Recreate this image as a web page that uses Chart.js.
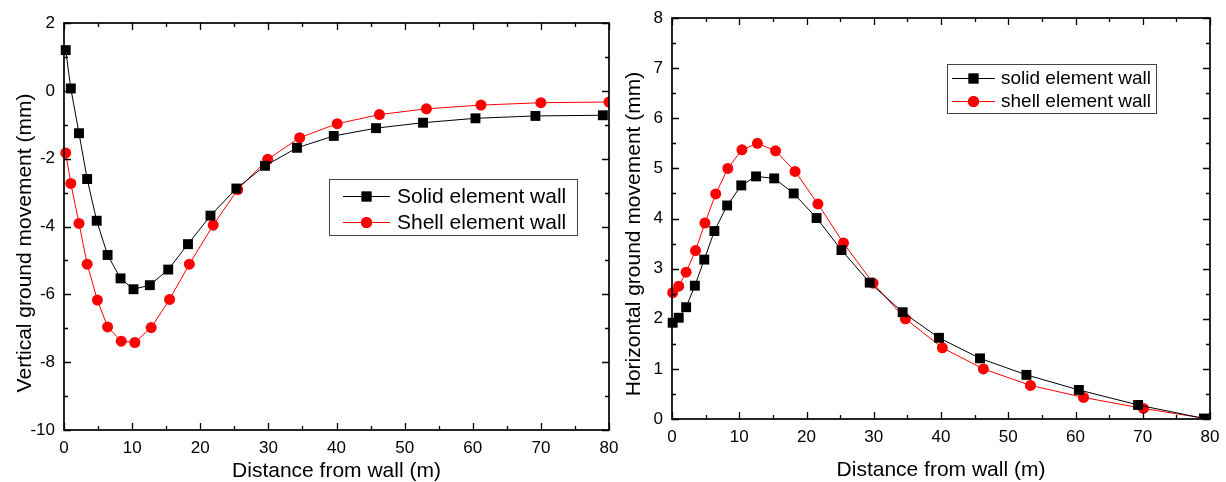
<!DOCTYPE html>
<html>
<head>
<meta charset="utf-8">
<script src="https://cdn.jsdelivr.net/npm/chart.js@4.4.0/dist/chart.umd.min.js"></script>
<style>
    body { margin: 0; background: #fff; }
    .panel { position: absolute; top: 0; height: 482px; }
    #leftPanel { left: 0; width: 625px; }
    #rightPanel { left: 615px; width: 611px; }
</style>
</head>
<body>
<div class="panel" id="leftPanel"><canvas id="vertChart"></canvas></div>
<div class="panel" id="rightPanel"><canvas id="horizChart"></canvas></div>
<script>
// Distance from wall (m) and ground movement (mm)
const distTicks = [0, 10, 20, 30, 40, 50, 60, 70, 80];
const vertTicks = [-10, -8, -6, -4, -2, 0, 2];
const horizTicks = [0, 1, 2, 3, 4, 5, 6, 7, 8];

const vertSolidX = [0.25, 1.0, 2.2, 3.4, 4.8, 6.4, 8.3, 10.2, 12.6, 15.3, 18.2, 21.5, 25.3, 29.5, 34.2, 39.6, 45.8, 52.7, 60.4, 69.2, 79.1];
const vertSolidY = [1.2, 0.07, -1.25, -2.6, -3.83, -4.84, -5.53, -5.85, -5.73, -5.27, -4.52, -3.68, -2.88, -2.21, -1.68, -1.33, -1.10, -0.94, -0.81, -0.74, -0.72];
const vertShellX = [0.25, 1.0, 2.2, 3.4, 4.9, 6.4, 8.4, 10.4, 12.8, 15.5, 18.4, 21.9, 25.5, 29.9, 34.6, 40.1, 46.3, 53.2, 61.2, 70.0, 80.0];
const vertShellY = [-1.83, -2.73, -3.91, -5.11, -6.17, -6.96, -7.38, -7.42, -6.98, -6.15, -5.11, -3.96, -2.91, -2.02, -1.38, -0.97, -0.70, -0.53, -0.42, -0.35, -0.33];

const horizSolidX = [0.1, 1.0, 2.1, 3.4, 4.8, 6.3, 8.2, 10.3, 12.5, 15.2, 18.1, 21.5, 25.2, 29.4, 34.3, 39.7, 45.8, 52.7, 60.5, 69.3, 79.1];
const horizSolidY = [1.92, 2.02, 2.23, 2.66, 3.18, 3.75, 4.26, 4.66, 4.84, 4.80, 4.50, 4.01, 3.37, 2.72, 2.13, 1.62, 1.21, 0.88, 0.58, 0.28, 0.01];
const horizShellX = [0.1, 1.0, 2.1, 3.5, 4.9, 6.5, 8.3, 10.4, 12.7, 15.4, 18.3, 21.7, 25.5, 29.9, 34.7, 40.2, 46.3, 53.3, 61.2, 70.1, 79.9];
const horizShellY = [2.52, 2.65, 2.93, 3.36, 3.91, 4.49, 5.00, 5.37, 5.50, 5.35, 4.94, 4.29, 3.51, 2.71, 2.00, 1.42, 1.00, 0.67, 0.43, 0.21, 0.0];

Chart.defaults.font.family = '"Liberation Sans", Arial, sans-serif';
Chart.defaults.color = '#000';

function toPoints(xs, ys) {
    return xs.map((x, i) => ({x: x, y: ys[i]}));
}

function solidSet(label, xs, ys) {
    return {
        label: label,
        data: toPoints(xs, ys),
        showLine: true,
        borderColor: '#000',
        backgroundColor: '#000',
        borderWidth: 1,
        pointStyle: 'rect',
        pointRadius: 7,
        pointBorderWidth: 0,
        tension: 0,
        clip: {left: 6, top: 0, right: 0, bottom: 0}
    };
}

function shellSet(label, xs, ys) {
    return {
        label: label,
        data: toPoints(xs, ys),
        showLine: true,
        borderColor: '#ff0000',
        backgroundColor: '#ff0000',
        borderWidth: 1,
        pointStyle: 'circle',
        pointRadius: 5.5,
        pointBorderWidth: 0,
        tension: 0,
        clip: {left: 6, top: 0, right: 0, bottom: 0}
    };
}

// Box frame with inward major/minor ticks, rotated y title, x title and inset legend
const frameDecor = {
    id: 'frameDecor',
    afterDatasetsDraw(chart, args, opts) {
        const {ctx, chartArea: a, scales: {x, y}} = chart;
        ctx.save();
        ctx.strokeStyle = '#000';
        ctx.lineWidth = 1.3;
        ctx.beginPath();
        const xt = x.ticks.map(t => t.value);
        for (let i = 0; i < xt.length; i++) {
            const vals = [[xt[i], 7]];
            if (i < xt.length - 1) vals.push([(xt[i] + xt[i + 1]) / 2, 4]);
            vals.forEach(([v, len]) => {
                const px = Math.round(x.getPixelForValue(v)) + 0.5;
                ctx.moveTo(px, a.bottom); ctx.lineTo(px, a.bottom - len);
                ctx.moveTo(px, a.top); ctx.lineTo(px, a.top + len);
            });
        }
        const yt = y.ticks.map(t => t.value);
        for (let i = 0; i < yt.length; i++) {
            const vals = [[yt[i], 7]];
            if (i < yt.length - 1) vals.push([(yt[i] + yt[i + 1]) / 2, 4]);
            vals.forEach(([v, len]) => {
                const py = Math.round(y.getPixelForValue(v)) + 0.5;
                ctx.moveTo(a.left, py); ctx.lineTo(a.left + len, py);
                ctx.moveTo(a.right, py); ctx.lineTo(a.right - len, py);
            });
        }
        ctx.stroke();
        ctx.lineWidth = 1.7;
        ctx.strokeRect(a.left, a.top, a.width, a.height);
        ctx.restore();
    },
    afterDraw(chart, args, opts) {
        const {ctx, chartArea: a} = chart;
        const family = Chart.defaults.font.family;
        ctx.save();
        ctx.fillStyle = '#000';

        // axis titles
        ctx.font = opts.titleSize + 'px ' + family;
        ctx.textAlign = 'center';
        ctx.textBaseline = 'alphabetic';
        ctx.fillText(opts.xTitle, (a.left + a.right) / 2, opts.xTitleBase);
        ctx.translate(opts.yTitleBase, opts.yTitleMid);
        ctx.rotate(-Math.PI / 2);
        ctx.fillText(opts.yTitle, 0, 0);
        ctx.setTransform(1, 0, 0, 1, 0, 0);

        // legend
        const lg = opts.legend;
        ctx.strokeStyle = '#444';
        ctx.lineWidth = 1;
        ctx.strokeRect(lg.left + 0.5, lg.top + 0.5, lg.width, lg.height);
        ctx.font = lg.size + 'px ' + family;
        ctx.textAlign = 'left';
        ctx.textBaseline = 'middle';
        chart.data.datasets.forEach((ds, i) => {
            const ry = lg.rows[i];
            ctx.strokeStyle = ds.borderColor;
            ctx.beginPath();
            ctx.moveTo(lg.lineFrom, ry + 0.5);
            ctx.lineTo(lg.lineTo, ry + 0.5);
            ctx.stroke();
            ctx.fillStyle = ds.backgroundColor;
            Chart.helpers.drawPoint(ctx, {pointStyle: ds.pointStyle, radius: ds.pointRadius, borderWidth: 0, rotation: 0},
                (lg.lineFrom + lg.lineTo) / 2, ry + 0.5);
            ctx.fill();
            ctx.fillStyle = '#000';
            ctx.fillText(ds.label, lg.textX, ry + 1);
        });
        ctx.restore();
    }
};

function fixedScale(tickVals, min, max, thickness, isX) {
    return {
        type: 'linear',
        min: min,
        max: max,
        grid: {display: false, drawTicks: false},
        border: {display: false},
        ticks: {font: {size: 17}, padding: isX ? 8 : 9, color: '#000'},
        afterBuildTicks: scale => { scale.ticks = tickVals.map(v => ({value: v})); },
        afterFit: scale => {
            if (isX) {
                scale.height = thickness;
                scale.paddingLeft = 0;
                scale.paddingRight = 0;
            } else {
                scale.width = thickness;
                scale.paddingTop = 0;
                scale.paddingBottom = 0;
            }
        }
    };
}

// Vertical ground movement
new Chart(document.getElementById('vertChart').getContext('2d'), {
    type: 'scatter',
    data: {
        datasets: [
            solidSet('Solid element wall', vertSolidX, vertSolidY),
            shellSet('Shell element wall', vertShellX, vertShellY)
        ]
    },
    options: {
        responsive: true,
        maintainAspectRatio: false,
        animation: false,
        layout: {padding: {top: 23, right: 16, left: 0, bottom: 0}},
        scales: {
            x: fixedScale(distTicks, 0, 80, 52, true),
            y: fixedScale(vertTicks, -10, 2, 64, false)
        },
        plugins: {
            legend: {display: false},
            tooltip: {enabled: false},
            frameDecor: {
                titleSize: 21,
                xTitle: 'Distance from wall (m)',
                xTitleBase: 477,
                yTitle: 'Vertical ground movement (mm)',
                yTitleBase: 31,
                yTitleMid: 243,
                legend: {
                    left: 329, top: 179, width: 248, height: 56,
                    rows: [196, 222], lineFrom: 343, lineTo: 390, textX: 397, size: 21
                }
            }
        }
    },
    plugins: [frameDecor]
});

// Horizontal ground movement
new Chart(document.getElementById('horizChart').getContext('2d'), {
    type: 'scatter',
    data: {
        datasets: [
            solidSet('solid element wall', horizSolidX, horizSolidY),
            shellSet('shell element wall', horizShellX, horizShellY)
        ]
    },
    options: {
        responsive: true,
        maintainAspectRatio: false,
        animation: false,
        layout: {padding: {top: 18, right: 16, left: 0, bottom: 0}},
        scales: {
            x: fixedScale(distTicks, 0, 80, 63, true),
            y: fixedScale(horizTicks, 0, 8, 57, false)
        },
        plugins: {
            legend: {display: false},
            tooltip: {enabled: false},
            frameDecor: {
                titleSize: 21,
                xTitle: 'Distance from wall (m)',
                xTitleBase: 476,
                yTitle: 'Horizontal ground movement (mm)',
                yTitleBase: 25,
                yTitleMid: 234,
                legend: {
                    left: 332, top: 64, width: 209, height: 49,
                    rows: [78, 101], lineFrom: 337, lineTo: 380, textX: 386, size: 19
                }
            }
        }
    },
    plugins: [frameDecor]
});
</script>
</body>
</html>
